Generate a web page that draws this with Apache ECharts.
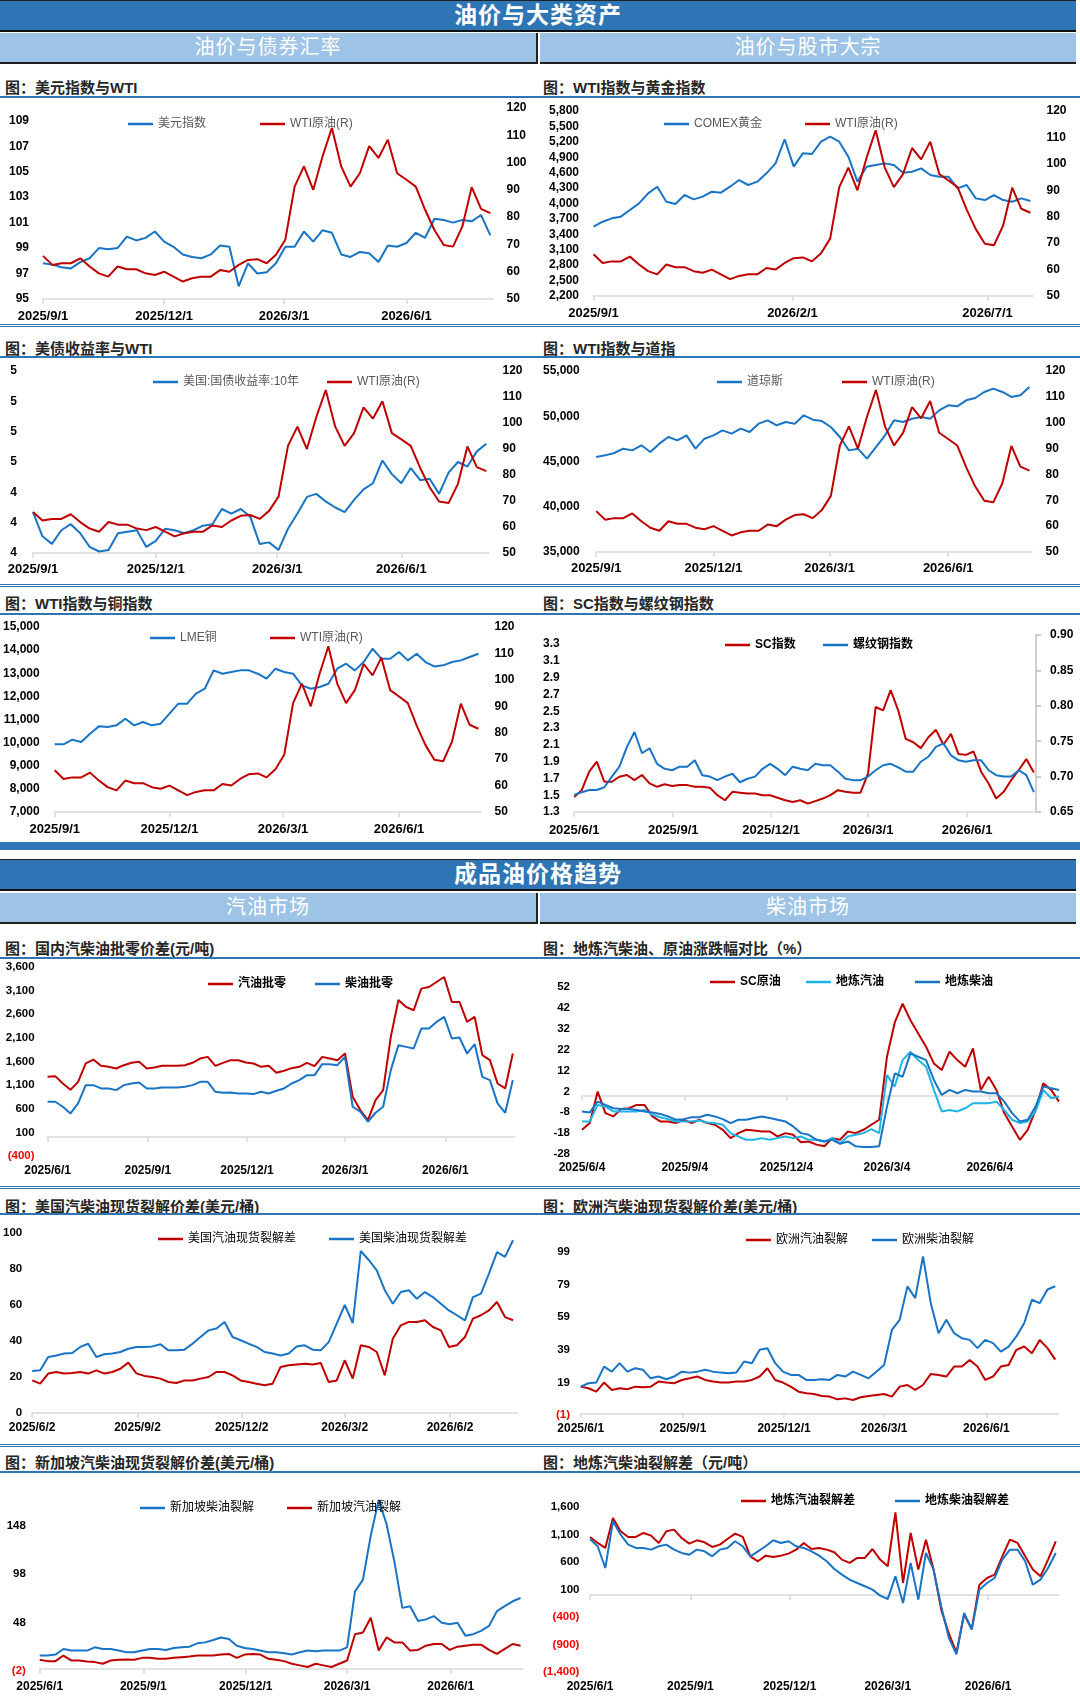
<!DOCTYPE html>
<html>
<head>
<meta charset="utf-8">
<script src="https://cdn.jsdelivr.net/npm/echarts/dist/echarts.min.js"></script>
<style>
body{margin:0;width:1080px;height:1700px;position:relative;background:#fff;overflow:hidden;
  font-family:'Liberation Sans','Noto Sans CJK SC',sans-serif;}
.hdr{position:absolute;left:0;width:1076px;height:29px;line-height:29px;background:#2E75B6;color:#fff;
  font-size:23px;font-weight:bold;text-align:center;border-top:1px solid #222;border-bottom:2px solid #111;letter-spacing:1px;}
.sub{position:absolute;height:29px;line-height:29px;background:#9DC3E6;color:#fff;font-size:20px;
  text-align:center;border-bottom:2px solid #222;letter-spacing:1px;}
.ttl{position:absolute;height:20px;line-height:20px;font-size:15px;font-weight:bold;color:#262626;white-space:nowrap;}
.uline{position:absolute;left:0;width:1080px;border-top:2px solid #2E75B6;}
.sep{position:absolute;left:0;width:1080px;border-top:3px double #2E75B6;}
.bar{position:absolute;left:0;width:1080px;height:8px;background:#2E75B6;}
.chart{position:absolute;}
</style>
</head>
<body>
<!-- 第一部分：油价与大类资产 -->
<div class="hdr" style="top:0">油价与大类资产</div>
<div class="sub" style="top:33px;left:0;width:536px;border-right:2px solid #222">油价与债券汇率</div>
<div class="sub" style="top:33px;left:540px;width:536px">油价与股市大宗</div>

<div class="ttl" style="top:78px;left:5px">图：美元指数与WTI</div>
<div class="ttl" style="top:78px;left:543px">图：WTI指数与黄金指数</div>
<div class="uline" style="top:96px"></div>
<div class="chart" id="cA" style="left:0;top:99px;width:540px;height:224px"></div>
<div class="chart" id="cB" style="left:540px;top:99px;width:540px;height:224px"></div>
<div class="sep" style="top:324px"></div>

<div class="ttl" style="top:339px;left:5px">图：美债收益率与WTI</div>
<div class="ttl" style="top:339px;left:543px">图：WTI指数与道指</div>
<div class="uline" style="top:356px"></div>
<div class="chart" id="cC" style="left:0;top:359px;width:540px;height:224px"></div>
<div class="chart" id="cD" style="left:540px;top:359px;width:540px;height:224px"></div>
<div class="sep" style="top:584px"></div>

<div class="ttl" style="top:594px;left:5px">图：WTI指数与铜指数</div>
<div class="ttl" style="top:594px;left:543px">图：SC指数与螺纹钢指数</div>
<div class="uline" style="top:613px"></div>
<div class="chart" id="cE" style="left:0;top:616px;width:540px;height:224px"></div>
<div class="chart" id="cF" style="left:540px;top:616px;width:540px;height:224px"></div>
<div class="bar" style="top:842px"></div>

<!-- 第二部分：成品油价格趋势 -->
<div class="hdr" style="top:859px">成品油价格趋势</div>
<div class="sub" style="top:893px;left:0;width:536px;border-right:2px solid #222">汽油市场</div>
<div class="sub" style="top:893px;left:540px;width:536px">柴油市场</div>

<div class="ttl" style="top:939px;left:5px">图：国内汽柴油批零价差(元/吨)</div>
<div class="ttl" style="top:939px;left:543px">图：地炼汽柴油、原油涨跌幅对比（%）</div>
<div class="uline" style="top:957px"></div>
<div class="chart" id="cG" style="left:0;top:960px;width:540px;height:225px"></div>
<div class="chart" id="cH" style="left:540px;top:960px;width:540px;height:225px"></div>
<div class="sep" style="top:1186px"></div>

<div class="ttl" style="top:1197px;left:5px">图：美国汽柴油现货裂解价差(美元/桶)</div>
<div class="ttl" style="top:1197px;left:543px">图：欧洲汽柴油现货裂解价差(美元/桶)</div>
<div class="uline" style="top:1213px"></div>
<div class="chart" id="cI" style="left:0;top:1216px;width:540px;height:227px"></div>
<div class="chart" id="cJ" style="left:540px;top:1216px;width:540px;height:227px"></div>
<div class="sep" style="top:1444px"></div>

<div class="ttl" style="top:1453px;left:5px">图：新加坡汽柴油现货裂解价差(美元/桶)</div>
<div class="ttl" style="top:1453px;left:543px">图：地炼汽柴油裂解差（元/吨）</div>
<div class="uline" style="top:1471px"></div>
<div class="chart" id="cK" style="left:0;top:1474px;width:540px;height:226px"></div>
<div class="chart" id="cL" style="left:540px;top:1474px;width:540px;height:226px"></div>

<script>
var FONT = "'Liberation Sans','Noto Sans CJK SC',sans-serif";
var RED = '#C00000', BLUE = '#1874C6', SKY = '#1DB4EA';

// 每周一个点（第 i 个值落在起始日 + 7*i 天）
// ---- 第一部分：2025/9/1 起 ----
var wti = [65.8, 62.5, 63.1, 63.1, 64.9, 61.9, 59.4, 58.2, 61.9, 60.9, 60.9, 59.4, 58.8, 60.0, 58.2, 56.4, 57.6, 58.2, 58.2, 60.6,
  60.0, 62.5, 64.3, 64.6, 63.1, 66.2, 71.7, 91.2, 98.6, 90.0, 102.3, 112.7, 98.6, 91.2, 96.1, 106.0, 101.7, 108.4, 96.1, 93.7,
  91.2, 82.7, 75.3, 69.8, 69.2, 76.6, 91.0, 83.0, 81.5];
var usdIndex = [97.8, 97.7, 97.5, 97.4, 97.9, 98.2, 99.0, 98.9, 99.0, 99.9, 99.6, 99.8, 100.3, 99.5, 99.1, 98.5, 98.3, 98.2, 98.5, 99.2,
  99.1, 96.0, 97.8, 97.0, 97.1, 97.8, 99.1, 99.1, 100.3, 99.5, 100.4, 100.2, 98.5, 98.3, 98.7, 98.6, 97.9, 99.2, 99.1, 99.4,
  100.2, 99.8, 101.3, 101.2, 101.0, 101.2, 101.1, 101.6, 100.0];
var comexGold = [3549, 3646, 3711, 3744, 3873, 4003, 4198, 4327, 4035, 3990, 4165, 4081, 4133, 4230, 4211, 4327, 4457, 4360, 4425, 4587,
  4781, 5250, 4717, 4976, 4963, 5203, 5300, 5203, 4911, 4425, 4717, 4749, 4781, 4749, 4600, 4619, 4684, 4554, 4522, 4522,
  4295, 4360, 4100, 4068, 4165, 4068, 4035, 4100, 4048];
var ust10y = [4.27, 4.11, 4.06, 4.15, 4.19, 4.13, 4.04, 4.01, 4.02, 4.13, 4.14, 4.15, 4.04, 4.08, 4.16, 4.15, 4.13, 4.15, 4.18, 4.19,
  4.29, 4.26, 4.29, 4.24, 4.06, 4.07, 4.02, 4.16, 4.26, 4.37, 4.39, 4.34, 4.30, 4.27, 4.35, 4.42, 4.46, 4.61, 4.52, 4.46,
  4.56, 4.48, 4.49, 4.39, 4.53, 4.60, 4.57, 4.67, 4.72];
var dowJones = [45500, 45680, 45940, 46420, 46230, 46790, 46050, 46970, 47710, 47340, 47890, 46420, 47520, 47890, 48440, 48080, 48630, 48260, 49180, 49550,
  49000, 49360, 49180, 50100, 49620, 49470, 48810, 47710, 46230, 46420, 45310, 46600, 47890, 49550, 49360, 49730, 49920, 49730, 50650, 51210,
  51100, 51760, 52020, 52680, 53050, 52680, 52130, 52310, 53230];
var lmeCopper = [9925, 9925, 10127, 10026, 10386, 10703, 10675, 10747, 11035, 10747, 10891, 10747, 10819, 11251, 11683, 11683, 12116, 12332, 13125, 12980,
  13052, 13125, 13125, 12980, 12764, 13197, 13052, 12980, 12476, 12332, 12404, 12548, 13197, 13413, 13125, 13485, 14061, 13629, 13629, 13917,
  13557, 13845, 13485, 13297, 13341, 13485, 13557, 13701, 13845];

// ---- SC 与螺纹钢：2025/6/1 起 ----
var scIndex = [1.48, 1.56, 1.78, 1.90, 1.66, 1.66, 1.72, 1.74, 1.68, 1.74, 1.64, 1.60, 1.63, 1.61, 1.62, 1.62, 1.60, 1.60, 1.59, 1.50,
  1.44, 1.54, 1.53, 1.52, 1.52, 1.50, 1.50, 1.47, 1.44, 1.42, 1.44, 1.40, 1.43, 1.46, 1.50, 1.56, 1.54, 1.53, 1.53, 1.76,
  2.55, 2.51, 2.75, 2.51, 2.17, 2.13, 2.06, 2.19, 2.28, 2.10, 2.23, 1.99, 1.98, 2.02, 1.78, 1.64, 1.46, 1.54, 1.68, 1.80,
  1.93, 1.77];
var rebarIndex = [0.674, 0.678, 0.681, 0.681, 0.685, 0.700, 0.714, 0.742, 0.763, 0.733, 0.740, 0.718, 0.711, 0.709, 0.714, 0.714, 0.723, 0.702, 0.700, 0.695,
  0.700, 0.704, 0.692, 0.697, 0.700, 0.711, 0.718, 0.711, 0.702, 0.714, 0.711, 0.709, 0.718, 0.716, 0.716, 0.707, 0.697, 0.695, 0.695, 0.700,
  0.709, 0.716, 0.718, 0.713, 0.707, 0.707, 0.721, 0.728, 0.742, 0.747, 0.730, 0.723, 0.721, 0.723, 0.723, 0.709, 0.702, 0.700, 0.700, 0.709,
  0.702, 0.678];

// ---- 第二部分 ----
var gasWholesale = [1276, 1290, 1135, 1000, 1170, 1558, 1642, 1508, 1487, 1452, 1522, 1572, 1593, 1452, 1473, 1508, 1508, 1508, 1522, 1572,
  1663, 1698, 1508, 1572, 1628, 1628, 1579, 1558, 1487, 1508, 1360, 1403, 1459, 1487, 1572, 1501, 1698, 1663, 1628, 1769,
  853, 572, 361, 783, 994, 2121, 2900, 2755, 2684, 3142, 3177, 3283, 3389, 2860, 2860, 2438, 2543, 1734, 1628, 1135,
  1030, 1769];
var dieselWholesale = [748, 748, 642, 501, 713, 1100, 1100, 1030, 1030, 994, 1100, 1135, 1156, 1030, 1030, 1051, 1051, 1051, 1065, 1100,
  1170, 1170, 959, 938, 945, 924, 924, 910, 959, 924, 980, 1030, 1135, 1206, 1311, 1311, 1544, 1544, 1522, 1698,
  642, 537, 325, 515, 642, 1417, 1945, 1910, 1875, 2297, 2297, 2438, 2543, 2086, 2107, 1769, 1966, 1276, 1206, 713,
  515, 1206];

// 2025/6/4 起
var scCrudeChg = [-16.4, -13.2, 1.9, -8.4, -10.0, -6.5, -6.1, -4.5, -4.5, -10.0, -12.4, -12.4, -13.2, -11.6, -13.2, -11.6, -13.2, -14.0, -16.4, -20.4,
  -18.0, -16.4, -16.7, -17.2, -17.2, -19.6, -18.0, -18.8, -22.4, -22.0, -23.5, -24.3, -20.4, -21.2, -17.2, -18.0, -16.4, -14.0, -11.6, 18.6,
  35.0, 44.0, 36.1, 29.7, 23.4, 15.4, 12.2, 21.0, 17.0, 13.8, 22.6, 2.7, 9.0, 2.7, -8.4, -14.8, -21.2, -16.4, -6.9, 5.9,
  2.7, -2.9];
var localGasChg = [-12.4, -12.4, -4.5, -5.3, -7.6, -7.6, -7.6, -7.6, -6.9, -9.2, -10.4, -11.3, -12.4, -12.4, -12.4, -11.9, -12.9, -13.2, -14.0, -18.0,
  -19.6, -21.2, -21.2, -20.4, -21.2, -20.4, -19.6, -20.4, -19.6, -21.2, -21.2, -22.0, -20.4, -22.8, -19.6, -18.8, -18.0, -16.1, -18.0, 9.8,
  4.3, 17.0, 21.0, 17.0, 13.8, 2.7, -7.6, -6.9, -7.6, -6.1, -3.7, -3.7, -3.7, -2.9, -6.9, -11.6, -13.2, -12.4, -7.6, 2.7,
  -1.3, -0.5];
var localDieselChg = [-7.6, -8.1, -2.9, -4.5, -6.1, -6.5, -6.5, -6.9, -7.6, -8.1, -8.8, -10.0, -11.6, -11.3, -10.4, -10.4, -9.2, -10.0, -11.3, -13.2,
  -11.6, -11.6, -10.8, -10.0, -10.8, -11.6, -12.4, -14.8, -18.0, -18.8, -21.2, -22.0, -21.2, -23.1, -22.0, -24.3, -24.7, -24.7, -24.3, -5.3,
  10.6, 9.0, 20.2, 18.6, 17.0, 7.5, 0.3, 2.7, 1.1, 2.7, 1.9, 1.9, 1.1, 1.1, -2.9, -8.4, -12.4, -11.6, -5.3, 4.3,
  3.5, 2.7];

// 2025/6/2 起
var usGasCrack = [18.1, 16.3, 21.9, 22.8, 21.9, 22.2, 22.8, 21.9, 23.7, 21.9, 22.8, 24.6, 28.0, 22.0, 20.6, 20.0, 19.1, 17.2, 16.7, 18.1,
  18.1, 19.1, 20.0, 22.8, 22.8, 20.9, 18.1, 17.2, 16.3, 15.4, 16.3, 25.6, 26.5, 27.0, 27.4, 27.0, 27.8, 17.2, 18.1, 29.3,
  19.1, 37.6, 36.7, 33.9, 20.9, 41.3, 48.7, 50.6, 50.6, 51.5, 47.8, 45.9, 36.7, 37.6, 42.2, 52.4, 54.3, 57.0, 61.7, 53.3,
  51.5];
var usDieselCrack = [23.3, 23.7, 31.1, 32.0, 33.0, 33.3, 36.7, 38.5, 31.1, 32.6, 33.0, 33.9, 35.7, 36.7, 36.7, 37.0, 38.2, 34.8, 34.8, 35.2,
  38.5, 42.2, 45.9, 46.9, 50.6, 42.2, 40.4, 38.5, 36.7, 33.9, 33.0, 32.0, 33.0, 37.0, 37.6, 35.2, 34.8, 39.4, 49.6, 60.0,
  50.0, 90.0, 85.0, 79.3, 68.2, 60.7, 67.2, 68.2, 63.5, 67.2, 64.4, 60.7, 57.0, 54.3, 51.5, 64.4, 66.3, 77.4, 89.4, 86.7,
  96.0];

// 2025/6/1 起
var euGasCrack = [16.4, 15.4, 13.3, 18.9, 14.4, 15.4, 14.8, 16.4, 16.0, 16.4, 19.5, 18.9, 18.5, 20.5, 21.5, 22.6, 20.5, 19.5, 18.9, 18.9,
  19.5, 19.5, 20.5, 22.6, 27.7, 20.5, 18.9, 16.4, 13.3, 12.3, 11.9, 10.7, 10.3, 8.6, 9.2, 8.2, 9.9, 10.7, 11.3, 11.9,
  10.3, 16.4, 17.4, 14.4, 17.4, 24.2, 23.6, 22.6, 28.7, 28.7, 32.8, 28.7, 20.5, 22.6, 28.7, 29.7, 39.0, 41.0, 36.9, 45.0,
  40.0, 33.0];
var euDieselCrack = [16.4, 18.5, 18.9, 28.7, 25.6, 30.8, 25.6, 27.7, 26.7, 21.5, 22.6, 20.9, 22.6, 25.6, 25.0, 25.6, 26.7, 25.6, 25.0, 24.6,
  25.0, 31.8, 30.8, 39.0, 40.0, 30.8, 25.6, 23.6, 23.6, 20.5, 20.5, 20.9, 20.5, 23.6, 22.6, 25.6, 23.6, 21.5, 25.6, 29.7,
  51.2, 57.4, 77.9, 70.7, 96.3, 67.6, 49.2, 57.4, 49.2, 46.1, 45.1, 40.0, 45.1, 43.1, 37.9, 41.0, 47.2, 55.3, 69.7, 67.6,
  76.0, 78.0];
var sgDieselCrack = [14.0, 14.0, 15.0, 20.8, 19.1, 19.1, 19.1, 22.5, 20.8, 20.8, 19.1, 17.4, 17.4, 19.1, 20.8, 20.8, 19.8, 21.8, 22.5, 23.2,
  26.6, 27.6, 30.0, 32.7, 31.0, 24.2, 21.8, 20.8, 19.1, 17.4, 17.4, 16.4, 15.0, 17.4, 19.1, 18.4, 19.1, 19.1, 19.1, 22.5,
  80.3, 92.2, 138.1, 175.0, 150.0, 110.9, 63.3, 65.0, 49.7, 51.4, 54.8, 48.0, 46.3, 48.0, 34.4, 36.1, 39.5, 44.6, 59.9, 65.0,
  70.1, 73.5];
var sgGasCrack = [9.6, 8.2, 8.2, 14.0, 8.9, 8.9, 7.9, 7.2, 5.5, 8.9, 9.6, 9.9, 9.6, 11.6, 11.6, 10.6, 10.6, 11.6, 12.3, 13.0,
  14.0, 14.0, 14.0, 15.0, 15.7, 11.6, 15.0, 15.7, 15.0, 10.6, 9.6, 8.2, 5.5, 3.8, 2.1, 5.5, 3.8, 2.1, 5.5, 8.9,
  36.1, 37.8, 53.1, 19.1, 32.7, 27.6, 27.6, 19.1, 19.8, 24.2, 25.9, 25.9, 19.8, 23.2, 24.2, 25.2, 25.2, 19.8, 15.7, 20.8,
  25.9, 24.2];
var localGasCrack = [1055, 946, 855, 1400, 1158, 1055, 1055, 1127, 1079, 946, 1158, 1188, 1036, 933, 994, 958, 873, 915, 1018, 1115,
  1055, 703, 612, 715, 691, 715, 752, 824, 946, 836, 855, 824, 776, 643, 582, 673, 673, 836, 643, 521,
  1500, 218, 1127, 461, 1006, 461, -267, -700, -1050, -350, -620, 188, 309, 370, 703, 1006, 946, 703, 461, 339,
  643, 976];
var localDieselCrack = [1018, 885, 491, 1339, 1097, 915, 855, 855, 824, 885, 915, 824, 764, 733, 824, 794, 703, 824, 855, 976,
  885, 703, 794, 885, 994, 946, 976, 885, 855, 794, 715, 612, 473, 370, 279, 218, 158, 97, -12, -73,
  339, -145, 582, -85, 764, 461, -206, -780, -1080, -327, -630, 97, 218, 309, 643, 824, 824, 612, 188, 279,
  491, 764];

// x 轴显示的日期
var labSep = ['2025/9/1', '2025/12/1', '2026/3/1', '2026/6/1'];
var labGold = ['2025/9/1', '2026/2/1', '2026/7/1'];
var labJun1 = ['2025/6/1', '2025/9/1', '2025/12/1', '2026/3/1', '2026/6/1'];
var labJun2 = ['2025/6/2', '2025/9/2', '2025/12/2', '2026/3/2', '2026/6/2'];
var labJun4 = ['2025/6/4', '2025/9/4', '2025/12/4', '2026/3/4', '2026/6/4'];

// 按天生成类目
function dayList(start, n) {
  var out = [], t0 = Date.parse(start + 'T00:00:00Z');
  for (var i = 0; i <= n; i++) {
    var d = new Date(t0 + i * 86400000);
    out.push(d.getUTCFullYear() + '/' + (d.getUTCMonth() + 1) + '/' + d.getUTCDate());
  }
  return out;
}
function weekly(vals) {
  return vals.map(function (v, i) { return [i * 7, v]; });
}
function comma(v) {
  return String(Math.round(Math.abs(v))).replace(/\B(?=(\d{3})+(?!\d))/g, ',');
}
var fmtInt = function (v) { return String(Math.round(v)); };
var fmtComma = function (v) { return comma(v); };
var fmtAcct = function (v) { return v < 0 ? '(' + comma(-v) + ')' : comma(v); };
var fmt1 = function (v) { return v.toFixed(1); };
var fmt2 = function (v) { return v.toFixed(2); };

function yAx(a, pos, size) {
  return {
    type: 'value', position: pos, min: a.min, max: a.max, interval: a.interval,
    splitLine: { show: false },
    axisLine: { show: !!a.line, lineStyle: { color: '#BFBFBF', width: 1.5 } },
    axisTick: { show: !!a.line, length: 5, lineStyle: { color: '#BFBFBF', width: 1.5 } },
    axisLabel: {
      margin: a.margin, formatter: a.fmt, fontSize: size, fontWeight: 'bold', fontFamily: FONT,
      color: function (v) { return (a.redNeg && parseFloat(v) < 0) ? '#FF0000' : '#000'; },
      showMinLabel: true, showMaxLabel: a.showMax !== false
    }
  };
}

function drawChart(c) {
  var chart = echarts.init(document.getElementById(c.id));
  var isLab = function (i, v) { return c.labels.indexOf(v) >= 0; };
  var xBase = function () {
    return {
      type: 'category', position: 'bottom', data: c.cats, boundaryGap: false,
      axisLine: { show: true, onZero: !!c.zero, lineStyle: { color: '#D9D9D9', width: 1.5 } },
      axisTick: { show: true, interval: isLab, length: 5, lineStyle: { color: '#D9D9D9', width: 1.5 } },
      axisLabel: { show: true, interval: isLab, margin: c.xMargin, fontSize: c.xFont, fontWeight: 'bold', color: '#000', fontFamily: FONT },
      splitLine: { show: false }
    };
  };
  var xAxis = [xBase()];
  if (c.zero) {
    // 轴线落在 0 处，日期标签放在底部
    xAxis[0].axisLabel.show = false;
    var lab = xBase();
    lab.axisLine = { show: false, onZero: false };
    lab.axisTick = { show: false };
    xAxis.push(lab);
  }
  var yAxis = [yAx(c.yL, 'left', c.yFont)];
  if (c.yR) yAxis.push(yAx(c.yR, 'right', c.yFont));

  chart.setOption({
    animation: false,
    textStyle: { fontFamily: FONT },
    grid: c.grid,
    xAxis: xAxis,
    yAxis: yAxis,
    legend: c.legends.map(function (l) {
      return {
        data: [l.name], left: l.x, top: l.y - 8, icon: 'rect', itemWidth: 25, itemHeight: 2.5,
        selectedMode: false,
        textStyle: { color: c.legendColor, fontSize: 12, fontWeight: c.legendBold ? 'bold' : 'normal', fontFamily: FONT }
      };
    }),
    series: c.series.map(function (s) {
      return {
        type: 'line', name: s.name, data: weekly(s.data), xAxisIndex: 0, yAxisIndex: s.y || 0,
        symbol: 'none', showSymbol: false,
        lineStyle: { width: 2, color: s.color }, itemStyle: { color: s.color }
      };
    })
  });
}

var daysSep = dayList('2025-09-01', 338);
var wtiAxis = { min: 50, max: 120, interval: 10, margin: 13.5, fmt: fmtInt };
var gray = '#595959';

var charts = [
  { id: 'cA', cats: daysSep, labels: labSep, grid: { left: 43, right: 47, top: 9, height: 191 },
    yL: { min: 95, max: 110, interval: 2, margin: 14, fmt: fmtInt, showMax: false }, yR: wtiAxis,
    xMargin: 11, xFont: 13, yFont: 12, legendColor: gray,
    legends: [{ name: '美元指数', x: 123, y: 22 }, { name: 'WTI原油(R)', x: 255, y: 22 }],
    series: [{ name: '美元指数', data: usdIndex, color: BLUE }, { name: 'WTI原油(R)', data: wti, color: RED, y: 1 }] },
  { id: 'cB', cats: daysSep, labels: labGold, grid: { left: 53.5, right: 47, top: 12, height: 185 },
    yL: { min: 2200, max: 5800, interval: 300, margin: 14.5, fmt: fmtComma }, yR: wtiAxis,
    xMargin: 11, xFont: 13, yFont: 12, legendColor: gray,
    legends: [{ name: 'COMEX黄金', x: 119, y: 22 }, { name: 'WTI原油(R)', x: 260, y: 22 }],
    series: [{ name: 'COMEX黄金', data: comexGold, color: BLUE }, { name: 'WTI原油(R)', data: wti, color: RED, y: 1 }] },
  { id: 'cC', cats: daysSep, labels: labSep, grid: { left: 33, right: 51, top: 12, height: 182 },
    yL: { min: 4.0, max: 5.2, interval: 0.2, margin: 16, fmt: fmtInt }, yR: wtiAxis,
    xMargin: 10, xFont: 13, yFont: 12, legendColor: gray,
    legends: [{ name: '美国:国债收益率:10年', x: 148, y: 20 }, { name: 'WTI原油(R)', x: 322, y: 20 }],
    series: [{ name: '美国:国债收益率:10年', data: ust10y, color: BLUE }, { name: 'WTI原油(R)', data: wti, color: RED, y: 1 }] },
  { id: 'cD', cats: daysSep, labels: labSep, grid: { left: 53.5, right: 48, top: 12, height: 181 },
    yL: { min: 35000, max: 55000, interval: 5000, margin: 16.5, fmt: fmtComma }, yR: wtiAxis,
    xMargin: 10, xFont: 13, yFont: 12, legendColor: gray,
    legends: [{ name: '道琼斯', x: 172, y: 20 }, { name: 'WTI原油(R)', x: 297, y: 20 }],
    series: [{ name: '道琼斯', data: dowJones, color: BLUE }, { name: 'WTI原油(R)', data: wti, color: RED, y: 1 }] },
  { id: 'cE', cats: daysSep, labels: labSep, grid: { left: 54.5, right: 59, top: 11, height: 185 },
    yL: { min: 7000, max: 15000, interval: 1000, margin: 15, fmt: fmtComma }, yR: wtiAxis,
    xMargin: 11, xFont: 13, yFont: 12, legendColor: gray,
    legends: [{ name: 'LME铜', x: 145, y: 19 }, { name: 'WTI原油(R)', x: 265, y: 19 }],
    series: [{ name: 'LME铜', data: lmeCopper, color: BLUE }, { name: 'WTI原油(R)', data: wti, color: RED, y: 1 }] },
  { id: 'cF', cats: dayList('2025-06-01', 429), labels: labJun1, grid: { left: 31.7, right: 44, top: 19, height: 177 },
    yL: { min: 1.3, max: 3.407, interval: 0.2, margin: 14.5, fmt: fmt1, showMax: false },
    yR: { min: 0.65, max: 0.9, interval: 0.05, margin: 14, fmt: fmt2, line: true },
    xMargin: 12, xFont: 13, yFont: 12, legendColor: '#000', legendBold: true,
    legends: [{ name: 'SC指数', x: 180, y: 26 }, { name: '螺纹钢指数', x: 278, y: 26 }],
    series: [{ name: 'SC指数', data: scIndex, color: RED }, { name: '螺纹钢指数', data: rebarIndex, color: BLUE, y: 1 }] },
  { id: 'cG', cats: dayList('2025-06-01', 429), labels: labJun1, zero: true, grid: { left: 47.6, right: 25, top: 7, height: 189 },
    yL: { min: -400, max: 3600, interval: 500, margin: 13, fmt: fmtAcct, redNeg: true },
    xMargin: 9, xFont: 12, yFont: 11.5, legendColor: '#000', legendBold: true,
    legends: [{ name: '汽油批零', x: 203, y: 21 }, { name: '柴油批零', x: 310, y: 21 }],
    series: [{ name: '汽油批零', data: gasWholesale, color: RED }, { name: '柴油批零', data: dieselWholesale, color: BLUE }] },
  { id: 'cH', cats: dayList('2025-06-04', 427), labels: labJun4, zero: true, grid: { left: 42, right: 21, top: 27, height: 167 },
    yL: { min: -28, max: 52, interval: 10, margin: 12, fmt: fmtInt },
    xMargin: 8, xFont: 12, yFont: 11.5, legendColor: '#000', legendBold: true,
    legends: [{ name: 'SC原油', x: 165, y: 19 }, { name: '地炼汽油', x: 261, y: 19 }, { name: '地炼柴油', x: 370, y: 19 }],
    series: [{ name: 'SC原油', data: scCrudeChg, color: RED }, { name: '地炼汽油', data: localGasChg, color: SKY },
      { name: '地炼柴油', data: localDieselChg, color: BLUE }] },
  { id: 'cI', cats: dayList('2025-06-02', 424), labels: labJun2, grid: { left: 31.7, right: 22.4, top: 17, height: 180 },
    yL: { min: 0, max: 100, interval: 20, margin: 10, fmt: fmtInt },
    xMargin: 9, xFont: 12, yFont: 11.5, legendColor: '#000',
    legends: [{ name: '美国汽油现货裂解差', x: 153, y: 20 }, { name: '美国柴油现货裂解差', x: 324, y: 20 }],
    series: [{ name: '美国汽油现货裂解差', data: usGasCrack, color: RED }, { name: '美国柴油现货裂解差', data: usDieselCrack, color: BLUE }] },
  { id: 'cJ', cats: dayList('2025-06-01', 430), labels: labJun1, zero: true, grid: { left: 40.7, right: 21.4, top: 36, height: 163 },
    yL: { min: -1, max: 99, interval: 20, margin: 10.7, fmt: fmtAcct, redNeg: true },
    xMargin: 8, xFont: 12, yFont: 11.5, legendColor: '#000',
    legends: [{ name: '欧洲汽油裂解', x: 201, y: 21 }, { name: '欧洲柴油裂解', x: 327, y: 21 }],
    series: [{ name: '欧洲汽油裂解', data: euGasCrack, color: RED }, { name: '欧洲柴油裂解', data: euDieselCrack, color: BLUE }] },
  { id: 'cK', cats: dayList('2025-06-01', 429), labels: labJun1, zero: true, grid: { left: 39.7, right: 17.2, top: 13.3, height: 183.7 },
    yL: { min: -2, max: 188, interval: 50, margin: 13.8, fmt: fmtAcct, redNeg: true, showMax: false },
    xMargin: 10, xFont: 12, yFont: 11.5, legendColor: '#000',
    legends: [{ name: '新加坡柴油裂解', x: 135, y: 31 }, { name: '新加坡汽油裂解', x: 282, y: 31 }],
    series: [{ name: '新加坡柴油裂解', data: sgDieselCrack, color: BLUE }, { name: '新加坡汽油裂解', data: sgGasCrack, color: RED }] },
  { id: 'cL', cats: dayList('2025-06-01', 430), labels: labJun1, zero: true, grid: { left: 46.6, right: 21, top: 24.7, height: 173.3 },
    yL: { min: -1400, max: 1750, interval: 500, margin: 10.6, fmt: fmtAcct, redNeg: true, showMax: false },
    xMargin: 9, xFont: 12, yFont: 11.5, legendColor: '#000', legendBold: true,
    legends: [{ name: '地炼汽油裂解差', x: 196, y: 24 }, { name: '地炼柴油裂解差', x: 350, y: 24 }],
    series: [{ name: '地炼汽油裂解差', data: localGasCrack, color: RED }, { name: '地炼柴油裂解差', data: localDieselCrack, color: BLUE }] }
];

charts.forEach(drawChart);
</script>
</body>
</html>
